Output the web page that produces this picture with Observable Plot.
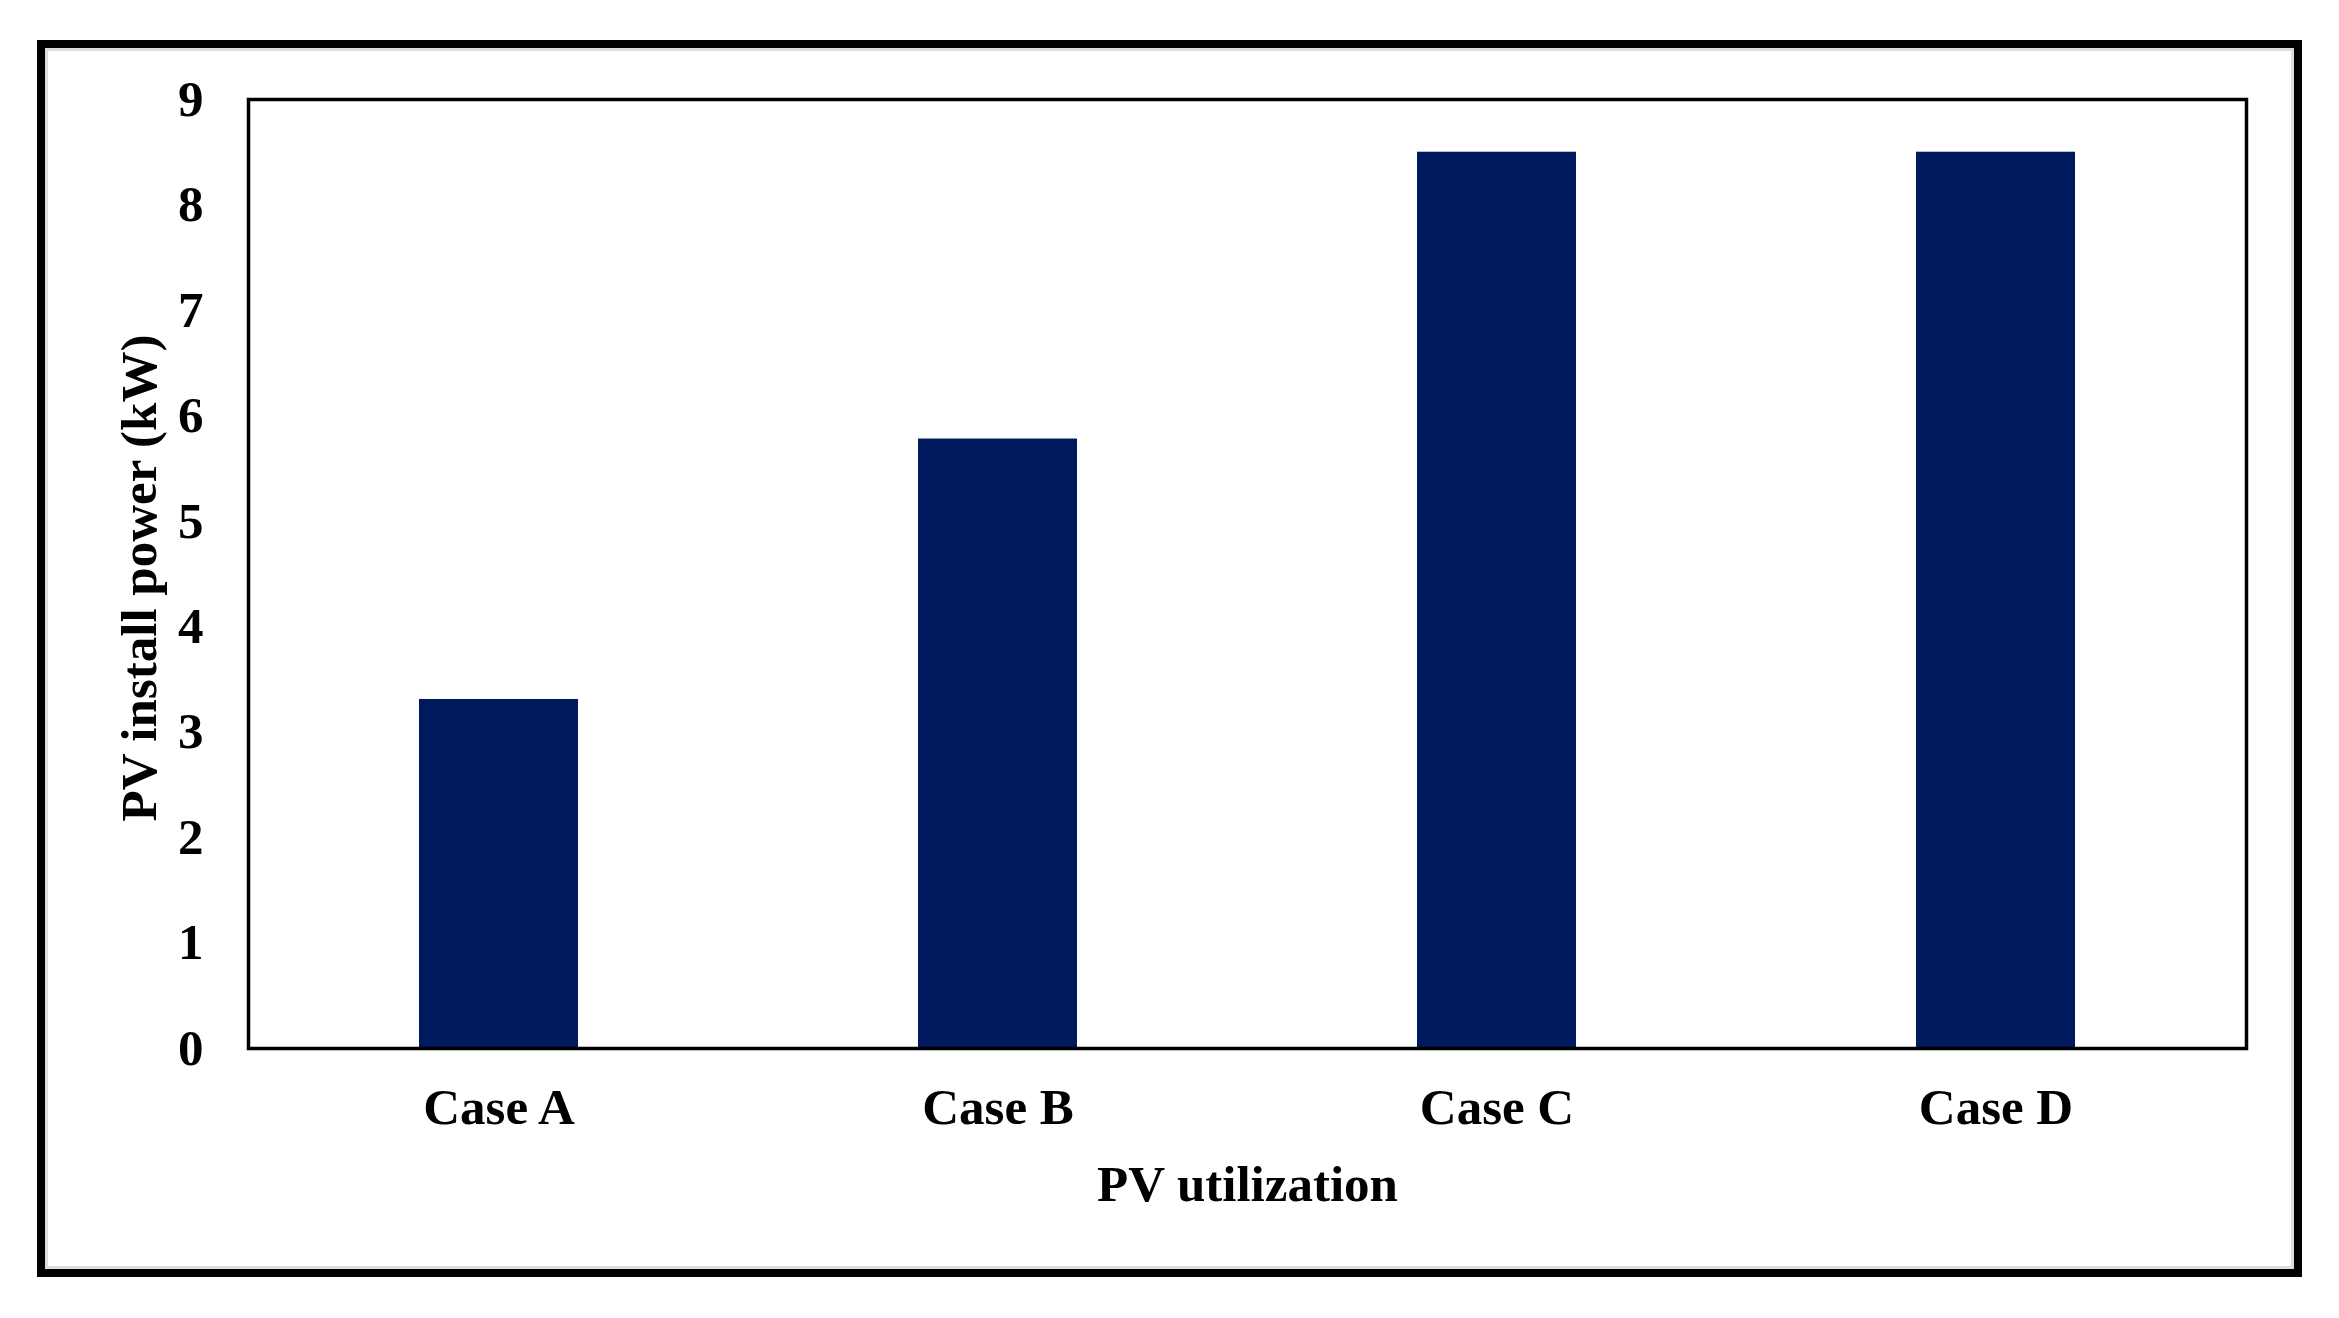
<!DOCTYPE html>
<html>
<head>
<meta charset="utf-8">
<script src="https://cdn.jsdelivr.net/npm/d3@7"></script>
<script src="https://cdn.jsdelivr.net/npm/@observablehq/plot@0.6"></script>
<style>
  html, body { margin: 0; padding: 0; background: #fff; }
  #wrap { position: relative; width: 2339px; height: 1318px; }
  #border {
    position: absolute; left: 37px; top: 40px; width: 2249px; height: 1221px;
    border: 8px solid #000; box-shadow: inset 0 0 0 3px #dcdcdc; pointer-events: none;
  }
  svg { display: block; }
</style>
</head>
<body>
<div id="wrap"><div id="border"></div></div>
<script>
const categories = ["Case A", "Case B", "Case C", "Case D"];
const values = [3.31, 5.78, 8.5, 8.5];
const yTicks = [0, 1, 2, 3, 4, 5, 6, 7, 8, 9];
const xTitle = "PV utilization";
const yTitle = "PV install power (kW)";

const data = categories.map((c, i) => ({case: c, value: values[i]}));
const font = "'Liberation Serif', 'Times New Roman', serif";

const chart = Plot.plot({
  width: 2339,
  height: 1318,
  marginLeft: 248,
  marginRight: 93,
  marginTop: 99,
  marginBottom: 270,
  style: {fontFamily: font, fontSize: "51px", fontWeight: "bold", color: "#000", background: "transparent"},
  x: {domain: categories, paddingInner: 0.682, paddingOuter: 0.341, label: null},
  y: {domain: [0, 9], label: null},
  marks: [
    Plot.barY(data, {x: "case", y: "value", fill: "#001a5f"}),
    Plot.axisX({tickSize: 0, tickPadding: 39, label: null}),
    Plot.axisY({ticks: yTicks, tickSize: 0, tickPadding: 45, label: null}),
    Plot.frame({stroke: "#000", strokeWidth: 3.5}),
    Plot.text([xTitle], {text: d => d, frameAnchor: "bottom", textAnchor: "middle", dy: 136, lineAnchor: "middle", fontSize: 51, fontWeight: "bold", fill: "#000"}),
    Plot.text([yTitle], {text: d => d, frameAnchor: "left", textAnchor: "middle", rotate: -90, dx: -109, dy: 4, lineAnchor: "middle", fontSize: 51, fontWeight: "bold", fill: "#000"})
  ]
});
document.getElementById("wrap").insertBefore(chart, document.getElementById("border"));
</script>
</body>
</html>
